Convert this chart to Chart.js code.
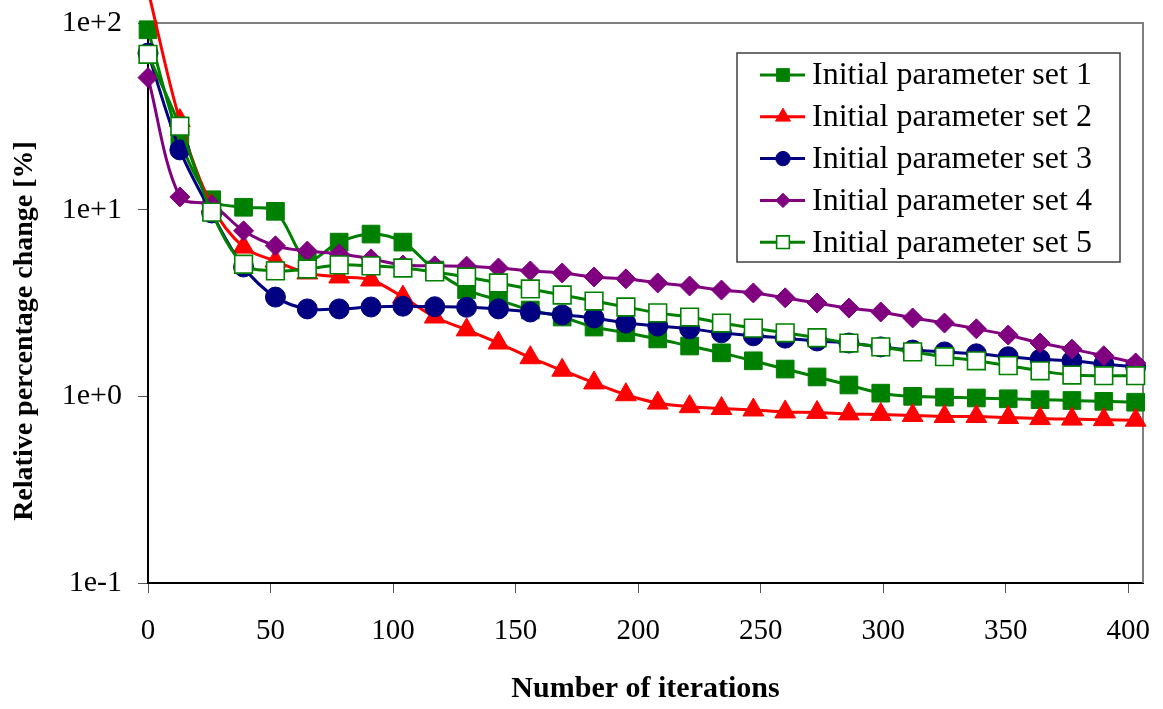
<!DOCTYPE html>
<html>
<head>
<meta charset="utf-8">
<title>Relative percentage change</title>
<script src="https://cdn.jsdelivr.net/npm/chart.js@4/dist/chart.umd.min.js"></script>
<style>
  html, body { margin: 0; padding: 0; background: #fff; }
  #wrap { width: 1163px; height: 709px; position: relative; }
</style>
</head>
<body>
<div id="wrap"><canvas id="conv-chart"></canvas></div>
<script>
// Data
const iterations = [0, 13, 26, 39, 52, 65, 78, 91, 104, 117, 130, 143, 156, 169, 182, 195,
  208, 221, 234, 247, 260, 273, 286, 299, 312, 325, 338, 351, 364, 377, 390, 403];

const set1 = [92, 23.6, 11.3, 10.3, 9.8, 5.4, 6.7, 7.4, 6.7, 4.75, 3.72, 3.28, 2.90, 2.66, 2.35, 2.19,
  2.03, 1.86, 1.71, 1.55, 1.40, 1.27, 1.15, 1.04, 1.00, 0.99, 0.98, 0.97, 0.96, 0.95, 0.94, 0.93];
const set2 = [150, 30, 10.5, 6.3, 5.3, 4.58, 4.36, 4.2, 3.4, 2.66, 2.27, 1.93, 1.61, 1.38, 1.18, 1.02,
  0.92, 0.88, 0.86, 0.845, 0.825, 0.82, 0.805, 0.80, 0.79, 0.78, 0.78, 0.77, 0.76, 0.755, 0.75, 0.745];
const set3 = [69, 20.9, 9.6, 4.93, 3.40, 2.94, 2.94, 3.01, 3.04, 3.02, 3.0, 2.94, 2.83, 2.73, 2.63, 2.47,
  2.38, 2.30, 2.19, 2.11, 2.05, 1.98, 1.93, 1.84, 1.77, 1.73, 1.69, 1.63, 1.58, 1.55, 1.49, 1.44];
const set4 = [51, 11.7, 10.6, 7.7, 6.4, 6.0, 5.8, 5.45, 5.05, 5.0, 4.98, 4.87, 4.70, 4.58, 4.36, 4.26,
  4.05, 3.90, 3.71, 3.58, 3.37, 3.16, 2.97, 2.83, 2.63, 2.47, 2.30, 2.13, 1.93, 1.79, 1.65, 1.51];
const set5 = [68, 28, 9.7, 5.1, 4.70, 4.81, 5.06, 5.0, 4.87, 4.64, 4.36, 4.05, 3.76, 3.49, 3.24, 3.01,
  2.80, 2.66, 2.47, 2.32, 2.19, 2.06, 1.93, 1.84, 1.73, 1.63, 1.55, 1.46, 1.37, 1.30, 1.29, 1.29];

const seriesLabels = ["Initial parameter set 1", "Initial parameter set 2", "Initial parameter set 3",
  "Initial parameter set 4", "Initial parameter set 5"];

const xTickValues = [0, 50, 100, 150, 200, 250, 300, 350, 400];
const yTickValues = [0.1, 1, 10, 100];
const yTickLabels = ["1e-1", "1e+0", "1e+1", "1e+2"];

const SERIF = "'Liberation Serif', 'Times New Roman', serif";

function toPoints(values) {
  return values.map((v, i) => ({ x: iterations[i], y: v }));
}

// marker look per series
const styles = [
  { color: "#008000", fill: "#008000", pointStyle: "rect", radius: 12.5, border: 1 },
  { color: "#FF0000", fill: "#FF0000", pointStyle: "triangle", radius: 12, border: 1 },
  { color: "#000080", fill: "#000080", pointStyle: "circle", radius: 10, border: 1 },
  { color: "#800080", fill: "#800080", pointStyle: "rectRot", radius: 10, border: 1 },
  { color: "#008000", fill: "#FFFFFF", pointStyle: "rect", radius: 12.5, border: 1.6 },
];

const datasets = [set1, set2, set3, set4, set5].map((vals, i) => ({
  label: seriesLabels[i],
  data: toPoints(vals),
  borderColor: styles[i].color,
  backgroundColor: styles[i].fill,
  borderWidth: 3,
  pointStyle: styles[i].pointStyle,
  pointRadius: styles[i].radius,
  pointBorderWidth: styles[i].border,
  pointBorderColor: styles[i].color,
  pointBackgroundColor: styles[i].fill,
  tension: 0.33,
  clip: false,
  order: 5 - i,
}));

// gray frame on top and right side of the plot
const frame = {
  id: "frame",
  beforeDatasetsDraw(chart) {
    const { ctx, chartArea: a } = chart;
    ctx.save();
    ctx.strokeStyle = "#808080";
    ctx.lineWidth = 2;
    ctx.beginPath();
    ctx.moveTo(a.left, a.top);
    ctx.lineTo(a.right, a.top);
    ctx.lineTo(a.right, a.bottom);
    ctx.stroke();
    ctx.restore();
  }
};

// legend box inside the plot, upper right
const boxLegend = {
  id: "boxLegend",
  afterDraw(chart) {
    const ctx = chart.ctx;
    const left = 737, top = 53, right = 1120, bottom = 262;
    ctx.save();
    ctx.fillStyle = "#fff";
    ctx.fillRect(left, top, right - left, bottom - top);
    ctx.strokeStyle = "#404040";
    ctx.lineWidth = 1.5;
    ctx.strokeRect(left, top, right - left, bottom - top);

    chart.data.datasets.forEach((ds, i) => {
      const y = 75 + i * 41.8;
      ctx.strokeStyle = ds.borderColor;
      ctx.lineWidth = 3;
      ctx.beginPath();
      ctx.moveTo(760, y);
      ctx.lineTo(805, y);
      ctx.stroke();

      ctx.fillStyle = ds.pointBackgroundColor;
      ctx.strokeStyle = ds.pointBorderColor;
      ctx.lineWidth = ds.pointBorderWidth;
      Chart.helpers.drawPoint(ctx, {
        pointStyle: ds.pointStyle,
        rotation: 0,
        radius: ds.pointRadius * 0.72,
        borderWidth: ds.pointBorderWidth
      }, 783, y);

      ctx.fillStyle = "#000";
      ctx.font = "32px " + SERIF;
      ctx.textAlign = "left";
      ctx.textBaseline = "middle";
      ctx.fillText(ds.label, 812, y + 1);
    });
    ctx.restore();
  }
};

function initConvergenceChart() {
  const ctx = document.getElementById("conv-chart").getContext("2d");
  new Chart(ctx, {
    type: "line",
    data: { datasets: datasets },
    plugins: [frame, boxLegend],
    options: {
      responsive: true,
      maintainAspectRatio: false,
      animation: false,
      layout: { padding: { top: 23, right: 20, left: 0, bottom: 0 } },
      plugins: {
        legend: { display: false },
        tooltip: { enabled: false }
      },
      scales: {
        x: {
          type: "linear",
          min: 0,
          max: 406,
          afterBuildTicks: (axis) => { axis.ticks = xTickValues.map(v => ({ value: v })); },
          afterFit: (axis) => { axis.height = 126; axis.paddingLeft = 0; axis.paddingRight = 0; },
          ticks: {
            autoSkip: false,
            maxRotation: 0,
            padding: 21,
            color: "#000",
            font: { family: SERIF, size: 29 }
          },
          grid: { display: true, drawOnChartArea: false, drawTicks: true, tickLength: 10, color: "#555", lineWidth: 1 },
          border: { display: true, color: "#000", width: 2 },
          title: {
            display: true,
            text: "Number of iterations",
            color: "#000",
            padding: { top: 0, bottom: 2 },
            font: { family: SERIF, size: 30, weight: "bold" }
          }
        },
        y: {
          type: "logarithmic",
          min: 0.1,
          max: 100,
          afterBuildTicks: (axis) => { axis.ticks = yTickValues.map(v => ({ value: v })); },
          afterFit: (axis) => { axis.width = 148; axis.paddingTop = 0; axis.paddingBottom = 0; },
          ticks: {
            autoSkip: false,
            padding: 16,
            color: "#000",
            font: { family: SERIF, size: 30 },
            callback: (value) => yTickLabels[yTickValues.indexOf(value)]
          },
          grid: { display: true, drawOnChartArea: false, drawTicks: true, tickLength: 10, color: "#555", lineWidth: 1 },
          border: { display: true, color: "#000", width: 2 },
          title: {
            display: true,
            text: "Relative percentage change [%]        ",
            color: "#000",
            padding: { top: 8, bottom: 0 },
            font: { family: SERIF, size: 28, weight: "bold" }
          }
        }
      }
    }
  });
}

document.addEventListener("DOMContentLoaded", function() {
  initConvergenceChart();
});
</script>
</body>
</html>
